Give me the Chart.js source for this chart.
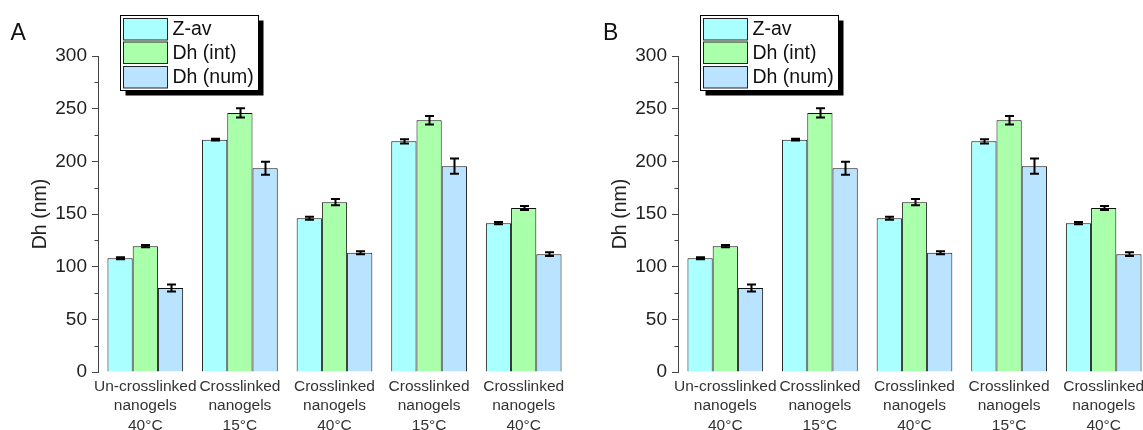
<!DOCTYPE html>
<html>
<head>
<meta charset="utf-8">
<script src="https://cdn.jsdelivr.net/npm/chart.js@4/dist/chart.umd.min.js"></script>
<style>
  html, body { margin: 0; padding: 0; background: #fff; }
  #wrap { position: relative; width: 1143px; height: 430px; overflow: hidden; }
  canvas { position: absolute; top: 0; }
  #cA { left: 0; }
  #cB { left: 580px; }
</style>
</head>
<body>
<div id="wrap">
  <canvas id="cA" width="580" height="430"></canvas>
  <canvas id="cB" width="580" height="430"></canvas>
</div>
<script>
// Sample groups
const categories = [
  ['Un-crosslinked', 'nanogels', '40°C'],
  ['Crosslinked', 'nanogels', '15°C'],
  ['Crosslinked', 'nanogels', '40°C'],
  ['Crosslinked', 'nanogels', '15°C'],
  ['Crosslinked', 'nanogels', '40°C']
];

// Hydrodynamic diameters (nm) and their standard deviations
const zAv        = [108.0, 220.6, 146.0, 219.0, 141.3];
const zAvErr     = [1.0, 0.8, 1.5, 2.0, 1.0];
const dhInt      = [119.5, 246.0, 161.2, 239.0, 155.6];
const dhIntErr   = [1.0, 4.5, 3.0, 4.0, 1.9];
const dhNum      = [79.7, 193.5, 113.2, 195.4, 111.9];
const dhNumErr   = [3.3, 6.2, 1.4, 7.2, 1.7];

const seriesLabels = ['Z-av', 'Dh (int)', 'Dh (num)'];
const yTickMajor = 50;
const yTickMinor = 25;
const yMin = 0, yMax = 300;

const FONT = "'Liberation Sans', Arial, Helvetica, sans-serif";
const colors = ['#AAFFFF', '#AAFFAA', '#B9E3FF'];

// Error bars drawn at each bar through the value scale
const errorBars = {
  id: 'errorBars',
  afterDatasetsDraw(chart) {
    const ctx = chart.ctx;
    const y = chart.scales.y;
    ctx.save();
    ctx.strokeStyle = '#000';
    ctx.lineWidth = 2;
    chart.data.datasets.forEach((ds, i) => {
      const meta = chart.getDatasetMeta(i);
      meta.data.forEach((bar, j) => {
        const v = ds.data[j], e = ds.errors[j];
        const top = y.getPixelForValue(v + e);
        const bot = y.getPixelForValue(v - e);
        const x = Math.round(bar.x) + 0.5;
        const hw = 4.5;
        ctx.beginPath();
        ctx.moveTo(x, top); ctx.lineTo(x, bot);
        ctx.moveTo(x - hw, top); ctx.lineTo(x + hw, top);
        ctx.moveTo(x - hw, bot); ctx.lineTo(x + hw, bot);
        ctx.stroke();
      });
    });
    ctx.restore();
  }
};

// Minor ticks on the value axis
const minorTicks = {
  id: 'minorTicks',
  afterDraw(chart) {
    const ctx = chart.ctx;
    const y = chart.scales.y;
    const left = chart.chartArea.left;
    ctx.save();
    ctx.strokeStyle = '#444';
    ctx.lineWidth = 1;
    for (let v = yMin; v <= yMax; v += yTickMinor) {
      if (v % yTickMajor === 0) continue;
      const py = Math.round(y.getPixelForValue(v)) + 0.5;
      ctx.beginPath();
      ctx.moveTo(left - 3.5, py);
      ctx.lineTo(left, py);
      ctx.stroke();
    }
    ctx.restore();
  }
};

// Boxed legend with drop shadow and the panel letter
const panelDecor = {
  id: 'panelDecor',
  afterDraw(chart, args, opts) {
    const ctx = chart.ctx;
    ctx.save();
    // panel letter
    ctx.fillStyle = '#111';
    ctx.font = '23px ' + FONT;
    ctx.textBaseline = 'alphabetic';
    ctx.textAlign = 'left';
    ctx.fillText(opts.letter, opts.letterX, 39.5);

    // legend box
    const bx = 120.5, by = 15.5, bw = 138, bh = 75;
    ctx.fillStyle = '#000';
    ctx.fillRect(bx + 5, by + 5, bw, bh);
    ctx.fillStyle = '#fff';
    ctx.fillRect(bx, by, bw, bh);
    ctx.strokeStyle = '#000';
    ctx.lineWidth = 1;
    ctx.strokeRect(bx, by, bw, bh);

    const rows = [18.5, 42, 66.5];
    ctx.font = '19.5px ' + FONT;
    ctx.textBaseline = 'middle';
    chart.data.datasets.forEach((ds, i) => {
      const ry = rows[i];
      ctx.fillStyle = ds.backgroundColor;
      ctx.fillRect(123.5, ry, 44, 21.5);
      ctx.strokeStyle = '#222';
      ctx.strokeRect(123.5, ry, 44, 21.5);
      ctx.fillStyle = '#111';
      ctx.fillText(ds.label, 172.5, ry + 11.5);
    });
    ctx.restore();
  }
};

function makeChart(canvasId, letter, letterX) {
  const datasets = [
    { label: seriesLabels[0], data: zAv, errors: zAvErr },
    { label: seriesLabels[1], data: dhInt, errors: dhIntErr },
    { label: seriesLabels[2], data: dhNum, errors: dhNumErr }
  ].map((d, i) => Object.assign(d, {
    backgroundColor: colors[i],
    borderColor: '#111',
    borderWidth: 1,
    barPercentage: 1.0,
    categoryPercentage: 0.8
  }));

  return new Chart(document.getElementById(canvasId), {
    type: 'bar',
    data: { labels: categories, datasets },
    plugins: [errorBars, minorTicks, panelDecor],
    options: {
      responsive: false,
      animation: false,
      devicePixelRatio: 1,
      layout: { padding: { top: 56, right: 9, bottom: 0, left: 0 } },
      plugins: {
        legend: { display: false },
        tooltip: { enabled: false },
        panelDecor: { letter, letterX }
      },
      scales: {
        x: {
          grid: { display: false, drawTicks: false },
          border: { display: false },
          ticks: {
            color: '#333',
            padding: 5,
            maxRotation: 0,
            autoSkip: false,
            font: { family: FONT, size: 15.5, lineHeight: 1.25 }
          },
          afterFit(scale) { scale.height = 58; }
        },
        y: {
          min: yMin,
          max: yMax,
          border: { display: true, color: '#444', width: 1 },
          grid: {
            drawOnChartArea: false,
            drawTicks: true,
            tickLength: 6,
            tickWidth: 1,
            tickColor: (c) => (c.tick && c.tick.value % yTickMajor === 0) ? '#444' : 'rgba(0,0,0,0)'
          },
          ticks: {
            stepSize: yTickMinor,
            color: '#222',
            padding: 5,
            font: { family: FONT, size: 19 },
            callback: (v) => (v % yTickMajor === 0 ? v : '')
          },
          title: {
            display: true,
            text: 'Dh (nm)',
            color: '#222',
            font: { family: FONT, size: 19.5 },
            padding: { top: 29, bottom: 0 }
          },
          afterFit(scale) { scale.width = 98; }
        }
      }
    }
  });
}

makeChart('cA', 'A', 10.5);
makeChart('cB', 'B', 23);
</script>
</body>
</html>
